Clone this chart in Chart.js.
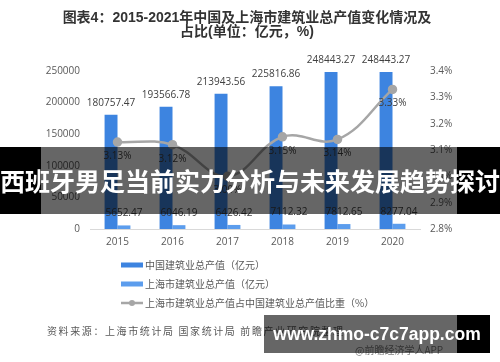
<!DOCTYPE html>
<html><head><meta charset="utf-8">
<script src="https://cdn.jsdelivr.net/npm/chart.js@4.4.1/dist/chart.umd.min.js"></script>
<style>
html,body{margin:0;padding:0;background:#fff;}
#wrap{position:relative;width:500px;height:362px;overflow:hidden;font-family:'Open Sans','Noto Sans CJK SC',sans-serif;}
#c{position:absolute;left:0;top:0;}
.title{position:absolute;left:-3px;width:500px;top:10px;text-align:center;font-weight:bold;font-size:14px;color:#333;line-height:14px;font-family:'Liberation Sans','Noto Sans CJK SC',sans-serif;white-space:nowrap;}
.src{position:absolute;left:47px;top:324px;font-size:10px;line-height:14px;letter-spacing:1.6px;color:#595959;white-space:nowrap;font-family:'Noto Sans CJK SC',sans-serif;}
.app{position:absolute;left:355px;top:343px;font-size:10px;line-height:14px;color:#808080;white-space:nowrap;font-family:'Noto Sans CJK SC',sans-serif;}
.band{position:absolute;left:0;top:147px;width:500px;height:67px;background:rgba(0,0,0,0.6);}
.blk{position:absolute;background:#000;}
.bandtext{position:absolute;left:0;top:147px;width:500px;height:67px;line-height:67px;text-align:center;color:#fff;font-weight:bold;font-size:25px;white-space:nowrap;font-family:'Noto Sans CJK SC',sans-serif;}
.wm{position:absolute;left:264px;top:315px;width:226px;height:38px;background:rgba(0,0,0,0.6);}
.wmtext{position:absolute;left:264px;top:315px;width:226px;height:38px;line-height:38px;text-align:center;color:#fff;font-weight:bold;font-size:17.5px;white-space:nowrap;font-family:'Liberation Sans',sans-serif;}
</style></head>
<body>
<div id="wrap">
<canvas id="c" width="500" height="362"></canvas>
<div class="title">图表4：2015-2021年中国及上海市建筑业总产值变化情况及<br>占比(单位：亿元，%)</div>
<div class="src">资料来源：上海市统计局 国家统计局 前瞻产业研究院整理</div>
<div class="app">@前瞻经济学人APP</div>
<div class="band"></div>
<div class="blk" style="left:0;top:147px;width:41px;height:67px;"></div>
<div class="blk" style="left:457px;top:147px;width:43px;height:67px;"></div>
<div class="bandtext">西班牙男足当前实力分析与未来发展趋势探讨</div>
<div class="wm"></div>
<div class="blk" style="left:457px;top:315px;width:33px;height:38px;"></div>
<div class="wmtext">www.zhmo-c7c7app.com</div>
</div>
<script>
const categories = ['2015','2016','2017','2018','2019','2020'];
const chinaOutput = [180757.47,193566.78,213943.56,225816.86,248443.27,248443.27];
const shanghaiOutput = [5652.47,6046.19,6426.42,7112.32,7812.65,8277.04];
const shanghaiShare = [3.13,3.12,3.00,3.15,3.14,3.33];
const seriesNames = ['中国建筑业总产值（亿元）','上海市建筑业总产值（亿元）','上海市建筑业总产值占中国建筑业总产值比重（%）'];
const leftTicks = {min:0,max:250000,step:50000};
const rightTicks = {min:2.8,max:3.4,step:0.1};

const FONT = "'Open Sans','Noto Sans CJK SC',sans-serif";
const C_CHINA = '#3d84e0';
const C_SH = '#5c9ded';
const C_LINE = '#a6a6a6';

const labelPlugin = {
  id:'valueLabels',
  afterDatasetsDraw(chart){
    const ctx = chart.ctx;
    ctx.save();
    ctx.font = "10px " + FONT;
    ctx.fillStyle = '#404040';
    ctx.textAlign = 'center'; ctx.textBaseline = 'middle';
    chart.data.datasets.forEach((ds,i)=>{
      const meta = chart.getDatasetMeta(i);
      meta.data.forEach((el,j)=>{
        const v = ds.data[j];
        if(ds.type === 'line') ctx.fillText(v.toFixed(2)+'%', el.x, el.y+14);
        else ctx.fillText(v.toFixed(2), el.x, el.y-12);
      });
    });
    ctx.restore();
  }
};

const legendPlugin = {
  id:'vLegend',
  afterDraw(chart){
    const ctx = chart.ctx;
    const ca = chart.chartArea;
    ctx.save();
    ctx.font = "10px 'Noto Sans CJK SC',sans-serif";
    ctx.textBaseline = 'middle'; ctx.textAlign = 'left';
    chart.data.datasets.forEach((ds,i)=>{
      const y = ca.bottom + 36 + i*19;
      const x0 = ca.left + 31;
      if(ds.type === 'line'){
        ctx.strokeStyle = ds.borderColor; ctx.lineWidth = 2.5;
        ctx.beginPath(); ctx.moveTo(x0, y); ctx.lineTo(x0+22, y); ctx.stroke();
        ctx.fillStyle = ds.borderColor;
        ctx.beginPath(); ctx.arc(x0+11, y, 3, 0, Math.PI*2); ctx.fill();
      } else {
        ctx.fillStyle = ds.backgroundColor;
        ctx.fillRect(x0, y-2.5, 22, 5);
      }
      ctx.fillStyle = '#595959';
      ctx.fillText(ds.label, x0+24, y);
    });
    ctx.restore();
  }
};

new Chart(document.getElementById('c'), {
  data:{
    labels: categories,
    datasets:[
      {type:'bar',label:seriesNames[0],data:chinaOutput,backgroundColor:C_CHINA,yAxisID:'y',order:2,categoryPercentage:0.47,barPercentage:1},
      {type:'bar',label:seriesNames[1],data:shanghaiOutput,backgroundColor:C_SH,yAxisID:'y',order:2,categoryPercentage:0.47,barPercentage:1},
      {type:'line',label:seriesNames[2],data:shanghaiShare,borderColor:C_LINE,backgroundColor:C_LINE,pointBackgroundColor:C_LINE,pointBorderColor:C_LINE,pointRadius:3.5,borderWidth:2.5,tension:0.4,yAxisID:'y1',order:0}
    ]
  },
  options:{
    responsive:false,
    animation:false,
    devicePixelRatio:1,
    layout:{padding:{top:71,bottom:113,left:0,right:0}},
    plugins:{legend:{display:false},title:{display:false},tooltip:{enabled:false}},
    scales:{
      x:{
        grid:{display:false,drawTicks:false},
        border:{display:true,color:'#d9d9d9',width:1},
        ticks:{font:{size:10,family:FONT},color:'#595959',padding:7},
        afterFit(s){s.height=20;}
      },
      y:{
        position:'left',min:leftTicks.min,max:leftTicks.max,
        grid:{display:false,drawTicks:false},border:{display:false},
        ticks:{stepSize:leftTicks.step,font:{size:10,family:FONT},color:'#595959',padding:10,callback:v=>String(Math.round(v))},
        afterFit(s){s.width=90;}
      },
      y1:{
        position:'right',min:rightTicks.min,max:rightTicks.max,
        grid:{display:false,drawTicks:false},border:{display:false},
        ticks:{stepSize:rightTicks.step,font:{size:10,family:FONT},color:'#595959',padding:10,callback:v=>Number(v).toFixed(1)+'%'},
        afterFit(s){s.width=80;}
      }
    }
  },
  plugins:[labelPlugin, legendPlugin]
});
</script>
</body></html>
